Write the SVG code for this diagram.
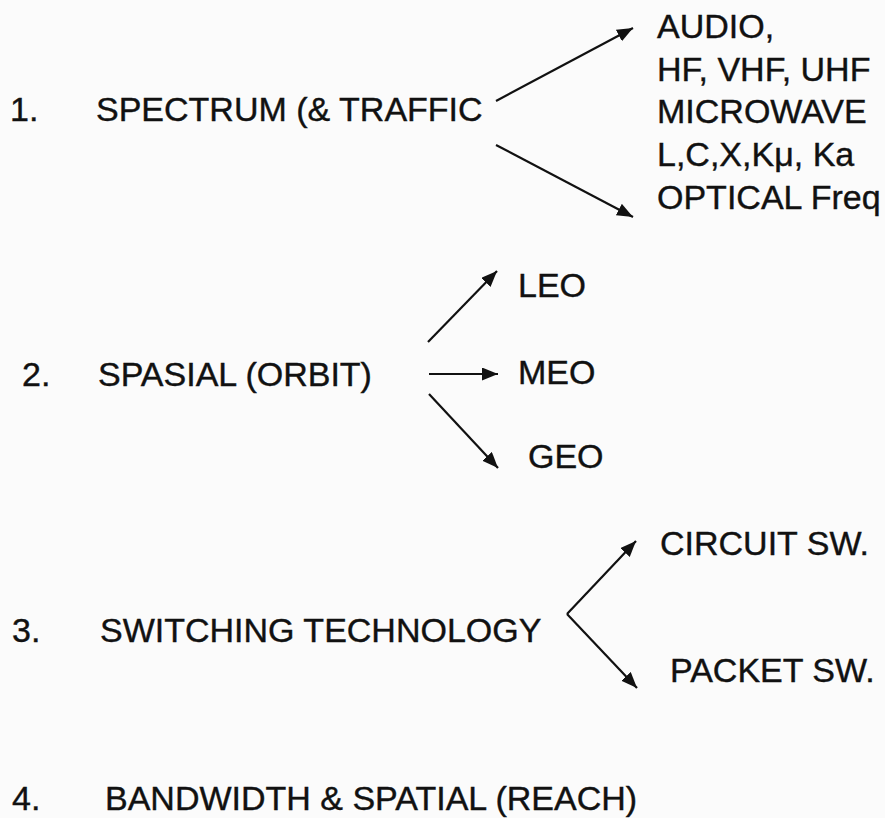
<svg xmlns="http://www.w3.org/2000/svg" width="885" height="818" viewBox="0 0 885 818">
  <style>
    text { font-family: "Liberation Sans", Arial, sans-serif; font-size: 34px; fill: #111; stroke: #111; stroke-width: 0.4; }
    .conn line { stroke: #111; stroke-width: 2.2; fill: none; }
  </style>
  <defs>
    <marker id="ah" markerUnits="userSpaceOnUse" markerWidth="18" markerHeight="14" refX="16" refY="6.5" orient="auto">
      <path d="M0,0 L16,6.5 L0,13 z" fill="#111"/>
    </marker>
  </defs>
  <rect width="885" height="818" fill="#fbfbfb"/>

  <g id="item1">
    <text x="10" y="121">1.</text>
    <text x="96" y="121">SPECTRUM (&amp; TRAFFIC</text>
  </g>
  <g id="spectrum-list">
    <text x="657" y="38">AUDIO,</text>
    <text x="657" y="81">HF, VHF, UHF</text>
    <text x="657" y="123">MICROWAVE</text>
    <text x="657" y="166">L,C,X,Kμ, Ka</text>
    <text x="657" y="209">OPTICAL Freq</text>
  </g>

  <g id="item2">
    <text x="22" y="386">2.</text>
    <text x="98" y="386">SPASIAL (ORBIT)</text>
  </g>
  <g id="leo"><text x="518" y="297">LEO</text></g>
  <g id="meo"><text x="518" y="384">MEO</text></g>
  <g id="geo"><text x="528" y="468">GEO</text></g>

  <g id="item3">
    <text x="12" y="642">3.</text>
    <text x="100" y="642">SWITCHING TECHNOLOGY</text>
  </g>
  <g id="circuit"><text x="660" y="555">CIRCUIT SW.</text></g>
  <g id="packet"><text x="670" y="682">PACKET SW.</text></g>

  <g id="item4">
    <text x="12" y="810">4.</text>
    <text x="105" y="810">BANDWIDTH &amp; SPATIAL (REACH)</text>
  </g>

  <g class="conn" id="connectors">
    <line x1="496" y1="101" x2="633" y2="28" marker-end="url(#ah)"/>
    <line x1="496" y1="145" x2="633" y2="217" marker-end="url(#ah)"/>
    <line x1="428" y1="342" x2="497" y2="271" marker-end="url(#ah)"/>
    <line x1="429" y1="374" x2="498" y2="374" marker-end="url(#ah)"/>
    <line x1="429" y1="394" x2="498" y2="468" marker-end="url(#ah)"/>
    <line x1="567" y1="614" x2="636" y2="541" marker-end="url(#ah)"/>
    <line x1="567" y1="614" x2="637" y2="688" marker-end="url(#ah)"/>
  </g>
</svg>
